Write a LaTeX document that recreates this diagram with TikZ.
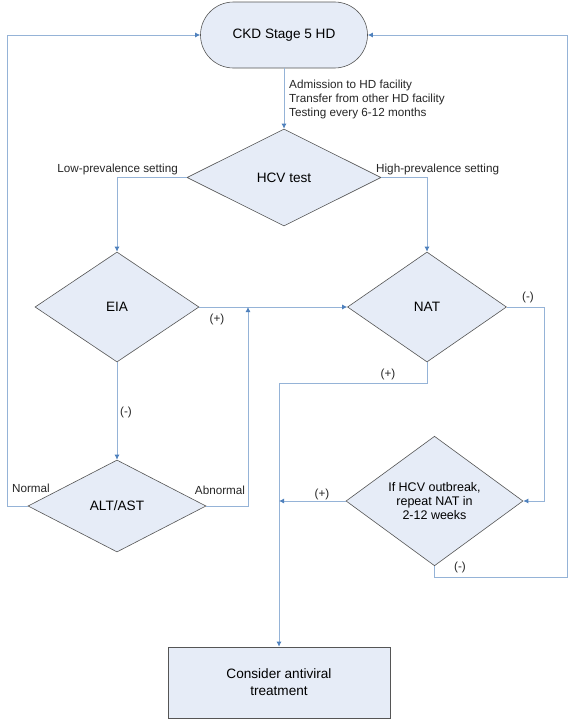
\documentclass[tikz,border=0pt]{standalone}
\usepackage{fontspec}
\setmainfont{Liberation Sans}
\usetikzlibrary{shapes.geometric,arrows.meta}
\definecolor{nodefill}{RGB}{230,236,247}
\definecolor{nodeborder}{RGB}{85,85,85}
\definecolor{linec}{RGB}{149,179,215}
\definecolor{arrowc}{RGB}{79,129,189}
\begin{document}
\begin{tikzpicture}[x=1pt,y=-1pt,
  dia/.style={diamond,draw=nodeborder,fill=nodefill,line width=0.6pt,inner sep=0pt,font=\fontsize{13.6}{16}\selectfont},
  boxnode/.style={draw=nodeborder,fill=nodefill,line width=0.6pt,inner sep=0pt},
  conn/.style={draw=linec,line width=0.9pt},
  arr/.style={conn,-{Latex[length=5pt,width=5pt,color=arrowc]}},
  lbl/.style={font=\fontsize{11.7}{13.6}\selectfont,inner sep=0pt,text=black!85}]
\useasboundingbox (0,0) rectangle (570,720);
\fill[white] (0,0) rectangle (570,720);
% nodes
\node[boxnode,rounded corners=33pt,minimum width=167pt,minimum height=66pt,font=\fontsize{13.6}{16}\selectfont] (ckd) at (284,35) {CKD Stage 5 HD};
\node[dia,minimum width=194pt,minimum height=97pt] (hcv) at (284,177.5) {HCV test};
\node[dia,minimum width=164pt,minimum height=110pt] (eia) at (117,307) {EIA};
\node[dia,minimum width=159pt,minimum height=110pt] (nat) at (427,307) {NAT};
\node[dia,minimum width=178pt,minimum height=92pt] (alt) at (117,506) {ALT/AST};
\node[dia,minimum width=177pt,minimum height=94pt,align=center,font=\fontsize{12.5}{14}\selectfont] (out) at (434.5,501) {If HCV outbreak,\\repeat NAT in\\2-12 weeks};
\node[boxnode,minimum width=222pt,minimum height=71pt,align=center,font=\fontsize{13.6}{17}\selectfont] (tx) at (279,682.5) {Consider antiviral\\treatment};
% helper coordinates
\coordinate (abn) at (248,506);
\coordinate (nrm) at (7,506);
\coordinate (natp) at (279,383);
\coordinate (natm) at (544,307);
\coordinate (outm) at (434.5,577);
\coordinate (rr) at (567,577);
% connectors
\draw[arr] (ckd.south) -- (hcv.north);
\draw[arr] (hcv.west) -| (eia.north);
\draw[arr] (hcv.east) -| (nat.north);
\draw[arr] (eia.east) -- (nat.west);
\draw[arr] (eia.south) -- (alt.north);
\draw[arr] (alt.east) -- (abn) -- (abn |- eia.east);
\draw[arr] (alt.west) -- (nrm) |- (ckd.west);
\draw[arr] (nat.south) |- (natp) -- (tx.north);
\draw[arr] (out.west) -- (natp |- out.west);
\draw[arr] (nat.east) -- (natm) |- (out.east);
\draw[arr] (out.south) -- (outm) -- (rr) |- (ckd.east);
% labels
\node[lbl,anchor=west,align=left] (adm) at (289,99.5) {Admission to HD facility\\Transfer from other HD facility\\Testing every 6-12 months};
\node[lbl,anchor=east] (low) at (178,169) {Low-prevalence setting};
\node[lbl,anchor=west] (high) at (376,169) {High-prevalence setting};
\node[lbl] (leiap) at (217,319) {(+)};
\node[lbl] (lnatm) at (528,297) {(-)};
\node[lbl] (lnatp) at (388,374) {(+)};
\node[lbl] (leiam) at (126,412) {(-)};
\node[lbl] (lnorm) at (31,488) {Normal};
\node[lbl] (labn) at (220,490) {Abnormal};
\node[lbl] (loutp) at (322,494) {(+)};
\node[lbl] (loutm) at (460,567) {(-)};
\end{tikzpicture}
\end{document}
